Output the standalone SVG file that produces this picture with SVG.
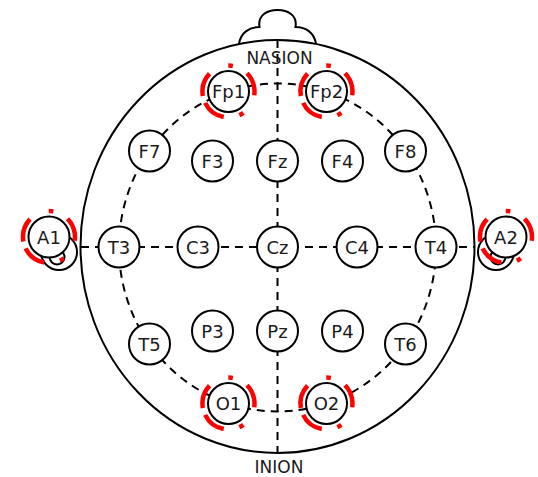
<svg xmlns="http://www.w3.org/2000/svg" width="538" height="477" viewBox="0 0 538 477">
  <style>
    .outline { fill: none; stroke: #000; stroke-width: 2; }
    .ear { fill: #fff; stroke: #000; stroke-width: 2; }
    .guide { fill: none; stroke: #000; stroke-width: 2; stroke-dasharray: 8 6; }
    .electrode circle.pad { fill: #fff; stroke: #000; stroke-width: 2; }
    .electrode text { font-family: "DejaVu Sans", "Liberation Sans", sans-serif; font-size: 18px; fill: #1a1a1a; text-anchor: middle; }
    .landmark { font-family: "DejaVu Sans", "Liberation Sans", sans-serif; font-size: 17px; fill: #1a1a1a; text-anchor: middle; }
    .ref { fill: none; stroke: #ff0000; stroke-width: 4.5; stroke-dasharray: 24 21 4.5 16; }
  </style>
  <rect width="538" height="477" fill="#fff"/>

  <!-- head outline, nose and ears -->
  <g id="head">
    <path class="outline" d="M 239 44 C 240.5 33, 249 27, 259.5 27 C 257.5 15, 267.5 10, 277.5 10 C 287.5 10, 297.5 15, 295.5 27 C 306 27, 314.5 33, 316 44"/>
    <ellipse class="outline" cx="277.5" cy="246.5" rx="197" ry="206.5"/>
  </g>
  <g id="ear-left">
    <circle class="ear" cx="59" cy="252" r="18"/>
    <circle class="outline" cx="57" cy="257" r="7.5"/>
  </g>
  <g id="ear-right">
    <circle class="ear" cx="496" cy="252" r="18"/>
    <circle class="outline" cx="498" cy="257" r="7.5"/>
  </g>

  <!-- measurement lines of the 10-20 grid -->
  <g id="connectors">
    <ellipse class="guide" cx="277.5" cy="247.5" rx="158.5" ry="164"/>
    <line class="guide" x1="277.5" y1="40" x2="277.5" y2="453"/>
    <line class="guide" x1="81" y1="247" x2="474" y2="247"/>
  </g>

  <text class="landmark" x="279.5" y="64">NASION</text>
  <text class="landmark" x="279" y="473">INION</text>

  <!-- electrodes -->
  <g id="Fp1" class="electrode"><circle class="pad" cx="228.5" cy="91.5" r="20.5"/><text x="228.5" y="98">Fp1</text></g>
  <g id="Fp2" class="electrode"><circle class="pad" cx="326.5" cy="91.5" r="20.5"/><text x="326.5" y="98">Fp2</text></g>
  <g id="F7" class="electrode"><circle class="pad" cx="149.5" cy="151" r="20.5"/><text x="149.5" y="157.5">F7</text></g>
  <g id="F3" class="electrode"><circle class="pad" cx="212.5" cy="161" r="20.5"/><text x="212.5" y="167.5">F3</text></g>
  <g id="Fz" class="electrode"><circle class="pad" cx="277.5" cy="161" r="20.5"/><text x="277.5" y="167.5">Fz</text></g>
  <g id="F4" class="electrode"><circle class="pad" cx="342.5" cy="161" r="20.5"/><text x="342.5" y="167.5">F4</text></g>
  <g id="F8" class="electrode"><circle class="pad" cx="405.5" cy="151" r="20.5"/><text x="405.5" y="157.5">F8</text></g>
  <g id="A1" class="electrode"><circle class="pad" cx="49" cy="237" r="20.5"/><text x="49" y="243.5">A1</text></g>
  <g id="T3" class="electrode"><circle class="pad" cx="119" cy="247" r="20.5"/><text x="119" y="253.5">T3</text></g>
  <g id="C3" class="electrode"><circle class="pad" cx="198" cy="247" r="20.5"/><text x="198" y="253.5">C3</text></g>
  <g id="Cz" class="electrode"><circle class="pad" cx="277.5" cy="247" r="20.5"/><text x="277.5" y="253.5">Cz</text></g>
  <g id="C4" class="electrode"><circle class="pad" cx="357" cy="247" r="20.5"/><text x="357" y="253.5">C4</text></g>
  <g id="T4" class="electrode"><circle class="pad" cx="436" cy="247" r="20.5"/><text x="436" y="253.5">T4</text></g>
  <g id="A2" class="electrode"><circle class="pad" cx="506" cy="237" r="20.5"/><text x="506" y="243.5">A2</text></g>
  <g id="T5" class="electrode"><circle class="pad" cx="149.5" cy="344" r="20.5"/><text x="149.5" y="350.5">T5</text></g>
  <g id="P3" class="electrode"><circle class="pad" cx="212.5" cy="331" r="20.5"/><text x="212.5" y="337.5">P3</text></g>
  <g id="Pz" class="electrode"><circle class="pad" cx="277.5" cy="331" r="20.5"/><text x="277.5" y="337.5">Pz</text></g>
  <g id="P4" class="electrode"><circle class="pad" cx="342.5" cy="331" r="20.5"/><text x="342.5" y="337.5">P4</text></g>
  <g id="T6" class="electrode"><circle class="pad" cx="405.5" cy="344" r="20.5"/><text x="405.5" y="350.5">T6</text></g>
  <g id="O1" class="electrode"><circle class="pad" cx="228.5" cy="403.5" r="20.5"/><text x="228.5" y="410">O1</text></g>
  <g id="O2" class="electrode"><circle class="pad" cx="326.5" cy="403.5" r="20.5"/><text x="326.5" y="410">O2</text></g>

  <!-- highlighted channels -->
  <g id="highlights">
    <circle class="ref" cx="228.5" cy="91.5" r="26" transform="rotate(170 228.5 91.5)"/>
    <circle class="ref" cx="326.5" cy="91.5" r="26" transform="rotate(170 326.5 91.5)"/>
    <circle class="ref" cx="228.5" cy="403.5" r="26" transform="rotate(170 228.5 403.5)"/>
    <circle class="ref" cx="326.5" cy="403.5" r="26" transform="rotate(170 326.5 403.5)"/>
    <circle class="ref" cx="49" cy="237" r="26" transform="rotate(170 49 237)"/>
    <circle class="ref" cx="506" cy="237" r="26" transform="rotate(170 506 237)"/>
  </g>
</svg>
